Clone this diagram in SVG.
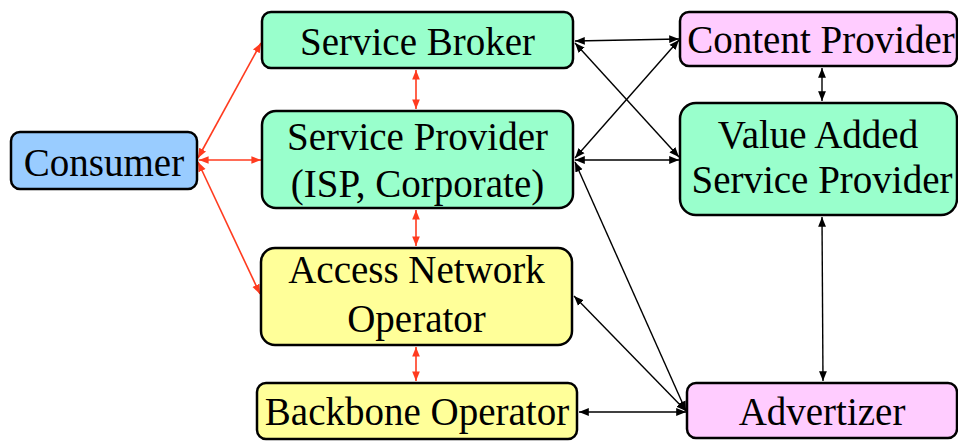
<svg xmlns="http://www.w3.org/2000/svg" width="958" height="442" viewBox="0 0 958 442">
<style>
.box{stroke:#000;stroke-width:2.5}
.g{fill:#99FFCC}.b{fill:#99CCFF}.y{fill:#FFFF99}.p{fill:#FFCCFF}
.t{font-family:'Liberation Serif','Times New Roman',serif;font-size:39px;fill:#000;text-anchor:middle}
.red{stroke:#FF3B1F;stroke-width:1.6;fill:none;marker-start:url(#ra);marker-end:url(#ra)}
.blk{stroke:#000;stroke-width:1.4;fill:none;marker-start:url(#ba);marker-end:url(#ba)}
</style>
<defs>
<marker id="ra" viewBox="0 0 10 10" refX="10" refY="5" markerWidth="6" markerHeight="6" markerUnits="strokeWidth" orient="auto-start-reverse"><path d="M0,1 L10,5 L0,9 z" fill="#FF3B1F"/></marker>
<marker id="ba" viewBox="0 0 10 10" refX="10" refY="5" markerWidth="7" markerHeight="7" markerUnits="strokeWidth" orient="auto-start-reverse"><path d="M0,1 L10,5 L0,9 z" fill="#000"/></marker>
</defs>
<g id="connectors">
<line class="red" x1="198" y1="158" x2="261" y2="43"/>
<line class="red" x1="199" y1="160" x2="261" y2="160"/>
<line class="red" x1="198" y1="162" x2="260" y2="294"/>
<line class="red" x1="416" y1="70" x2="416" y2="109"/>
<line class="red" x1="416" y1="210" x2="416" y2="246"/>
<line class="red" x1="416" y1="347" x2="416" y2="381"/>
<line class="blk" x1="575" y1="41" x2="679" y2="39"/>
<line class="blk" x1="575" y1="43" x2="679" y2="157"/>
<line class="blk" x1="575" y1="158" x2="679" y2="40"/>
<line class="blk" x1="575" y1="160" x2="679" y2="160"/>
<line class="blk" x1="575" y1="162" x2="686" y2="411"/>
<line class="blk" x1="574" y1="296" x2="686" y2="411"/>
<line class="blk" x1="579" y1="412" x2="686" y2="412"/>
<line class="blk" x1="822" y1="68" x2="822" y2="101"/>
<line class="blk" x1="822" y1="217" x2="823" y2="381"/>
</g>
<g id="consumer"><rect class="box b" x="11" y="132" width="186" height="57" rx="9"/><text class="t" x="104" y="176">Consumer</text></g>
<g id="service-broker"><rect class="box g" x="262" y="12" width="311" height="56" rx="9"/><text class="t" x="417.5" y="55">Service Broker</text></g>
<g id="service-provider"><rect class="box g" x="262" y="111" width="311" height="97" rx="14"/><text class="t" x="417.5" y="150">Service Provider</text><text class="t" x="417.5" y="197">(ISP, Corporate)</text></g>
<g id="access-network-operator"><rect class="box y" x="261" y="248" width="311" height="97" rx="14"/><text class="t" x="416.5" y="283">Access Network</text><text class="t" x="416.5" y="332">Operator</text></g>
<g id="backbone-operator"><rect class="box y" x="257" y="383" width="320" height="56" rx="9"/><text class="t" x="417" y="425">Backbone Operator</text></g>
<g id="content-provider"><rect class="box p" x="680" y="12" width="277" height="54" rx="9"/><text class="t" x="821" y="53">Content Provider</text></g>
<g id="value-added-service-provider"><rect class="box g" x="680" y="103" width="277" height="112" rx="16"/><text class="t" x="818" y="148">Value Added</text><text class="t" x="822" y="193">Service Provider</text></g>
<g id="advertizer"><rect class="box p" x="687" y="383" width="270" height="55" rx="9"/><text class="t" x="822" y="425">Advertizer</text></g>
</svg>
